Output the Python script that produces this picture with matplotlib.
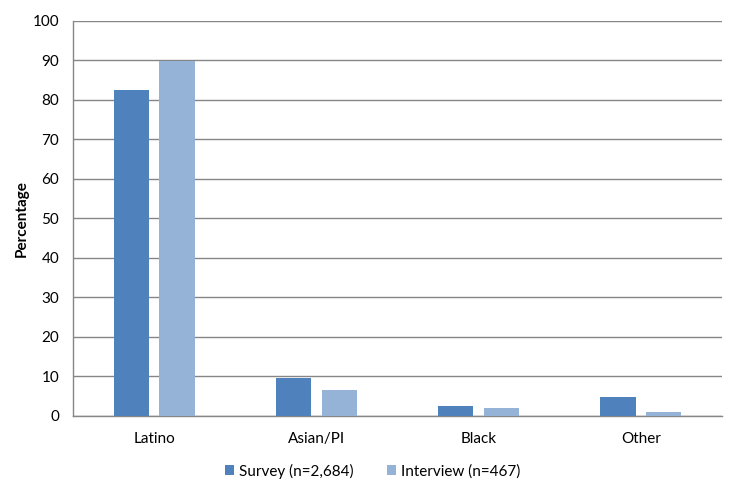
import matplotlib.pyplot as plt
import numpy as np

plt.rcParams['font.family'] = ['Lato', 'DejaVu Sans']

categories = ['Latino', 'Asian/PI', 'Black', 'Other']
survey = [82.4, 9.5, 2.4, 4.7]
interview = [89.8, 6.5, 1.9, 0.9]
series_names = ['Survey (n=2,684)', 'Interview (n=467)']

fig = plt.figure(figsize=(7.36, 4.86), dpi=100)
ax = fig.add_axes([73 / 736, 1 - 415.5 / 486, 649 / 736, 394.5 / 486])

x = np.arange(len(categories))
width = 0.216
ax.bar(x - 0.141, survey, width, color='#4F81BD', label=series_names[0], zorder=3)
ax.bar(x + 0.141, interview, width, color='#95B3D7', label=series_names[1], zorder=3)

ax.set_xlim(-0.5, len(categories) - 0.5)
ax.set_ylim(0, 100)
ax.set_yticks(range(0, 101, 10))
ax.set_xticks(x)
ax.set_xticklabels(categories)
ax.yaxis.grid(True, color='#868686', linewidth=1.0, zorder=0)
ax.tick_params(axis='both', length=0, labelsize=11, colors='black')
ax.tick_params(axis='y', pad=10)
ax.tick_params(axis='x', pad=12)

for side in ['top', 'right']:
    ax.spines[side].set_visible(False)
for side in ['left', 'bottom']:
    ax.spines[side].set_color('#868686')
    ax.spines[side].set_linewidth(1.0)

ax.set_ylabel('Percentage', fontsize=11, fontweight='bold', labelpad=3)

fig.legend(*ax.get_legend_handles_labels(), loc='center', bbox_to_anchor=(0.506, 1 - 471 / 486),
           ncol=2, frameon=False, fontsize=11, handlelength=0.6, handleheight=0.6,
           handletextpad=0.3, columnspacing=2.2)

fig.savefig('out.png', dpi=100)
